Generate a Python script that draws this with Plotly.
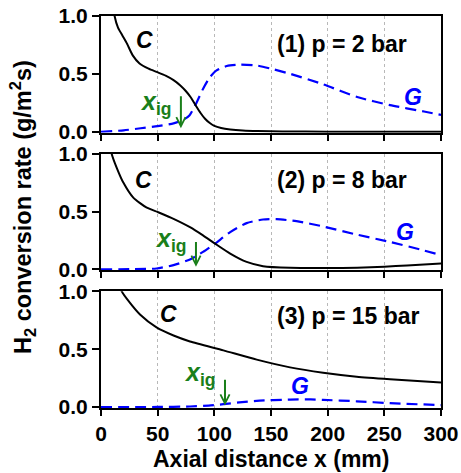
import plotly.graph_objects as go
from plotly.subplots import make_subplots

# ---- data ----
c1_x = [6, 12, 15, 19, 23, 28, 34, 42, 49, 57, 64, 70, 75, 79, 84, 88, 92, 96, 100, 106, 114, 125, 138, 160, 200, 250, 300]
c1_y = [1.5, 1.0, 0.9, 0.83, 0.76, 0.66, 0.59, 0.545, 0.517, 0.485, 0.446, 0.40, 0.35, 0.30, 0.22, 0.16, 0.11, 0.075, 0.05, 0.032, 0.02, 0.011, 0.006, 0.003, 0.001, 0.0, 0.0]
g1_x = [0, 20, 35, 50, 64, 72, 78, 84, 90, 96, 102, 111, 122, 137, 152, 167, 196, 226, 255, 285, 300]
g1_y = [0, 0.012, 0.03, 0.048, 0.072, 0.10, 0.14, 0.245, 0.37, 0.47, 0.53, 0.568, 0.58, 0.573, 0.54, 0.50, 0.41, 0.30, 0.23, 0.175, 0.145]

c2_x = [7, 9.4, 13.8, 19.7, 28.5, 40, 50.5, 64, 78.5, 90, 100.6, 114, 128.5, 143, 167, 200, 226, 250, 270, 300]
c2_y = [1.15, 1.0, 0.88, 0.75, 0.62, 0.536, 0.494, 0.437, 0.365, 0.294, 0.223, 0.137, 0.065, 0.028, 0.014, 0.012, 0.015, 0.024, 0.034, 0.051]
g2_x = [0, 30, 49, 64, 78.5, 90, 100.6, 114, 128.5, 143, 155, 172.5, 196, 226, 255, 284.5, 300]
g2_y = [0, 0.003, 0.008, 0.037, 0.086, 0.151, 0.223, 0.322, 0.40, 0.431, 0.434, 0.417, 0.371, 0.30, 0.237, 0.165, 0.123]

c3_x = [14, 18.3, 25.6, 34.4, 49, 64, 78.5, 108, 137.4, 166.8, 196, 225.6, 255, 300]
c3_y = [1.15, 1.0, 0.90, 0.80, 0.688, 0.618, 0.567, 0.49, 0.41, 0.343, 0.297, 0.263, 0.241, 0.212]
g3_x = [0, 50, 78.5, 95, 108, 122, 137.4, 166.8, 185, 196, 225.6, 255, 300]
g3_y = [0, 0.001, 0.005, 0.013, 0.025, 0.04, 0.054, 0.065, 0.066, 0.062, 0.05, 0.034, 0.017]

panel_titles = ["(1) p = 2 bar", "(2) p = 8 bar", "(3) p = 15 bar"]
x_ig = [70.5, 83.8, 109.4]          # ignition locations (mm)
x_ticks = [0, 50, 100, 150, 200, 250, 300]
y_ticks = [0, 0.5, 1.0]

C_data = [(c1_x, c1_y), (c2_x, c2_y), (c3_x, c3_y)]
G_data = [(g1_x, g1_y), (g2_x, g2_y), (g3_x, g3_y)]

FONT = "Liberation Sans"
GREEN = "#1a7f1a"
BLUE = "#0000ff"

fig = make_subplots(rows=3, cols=1, shared_xaxes=False, vertical_spacing=21 / 392)

for i in range(3):
    r = i + 1
    cx, cy = C_data[i]
    gx, gy = G_data[i]
    fig.add_trace(go.Scatter(x=gx, y=gy, mode="lines",
                             line=dict(color=BLUE, width=2.2, dash="11px,6px", shape="spline", smoothing=0.6),
                             showlegend=False, hoverinfo="skip"), row=r, col=1)
    fig.add_trace(go.Scatter(x=cx, y=cy, mode="lines",
                             line=dict(color="black", width=2, shape="spline", smoothing=0.6),
                             showlegend=False, hoverinfo="skip"), row=r, col=1)

    fig.update_xaxes(row=r, col=1, range=[0, 300], tickvals=x_ticks, automargin=False,
                     showticklabels=(r == 3), ticks="outside", ticklen=6, tickwidth=1.5,
                     tickcolor="black", showline=True, linecolor="black", linewidth=2,
                     mirror=True, showgrid=True, gridcolor="#b8b8b8", gridwidth=1,
                     griddash="dot", zeroline=False,
                     tickfont=dict(family=FONT, size=21, color="black", weight="bold"))
    fig.update_yaxes(row=r, col=1, range=[-0.008, 1.0], tickvals=y_ticks, automargin=False,
                     ticktext=["0.0", "0.5", "1.0"], ticks="outside", ticklen=7,
                     tickwidth=1.5, tickcolor="black", showline=True, linecolor="black",
                     linewidth=2, mirror=True, showgrid=False, zeroline=False,
                     tickfont=dict(family=FONT, size=21, color="black", weight="bold"))

xref = ["x", "x2", "x3"]
yref = ["y", "y2", "y3"]
title_y = [0.76, 0.77, 0.79]
c_pos = [(38.8, 0.79), (37.4, 0.77), (59.4, 0.80)]
g_pos = [(275.7, 0.30), (268.3, 0.32), (175.6, 0.18)]
xig_pos = [(48.4, 0.25), (61, 0.25), (87, 0.29)]
arrow_top = [0.32, 0.25, 0.25]
arrow_tip = [0.03, 0.022, 0.014]

ann = []
for i in range(3):
    ann.append(dict(x=153.6, y=title_y[i], xref=xref[i], yref=yref[i], xanchor="left",
                    yanchor="middle", showarrow=False, text=panel_titles[i],
                    font=dict(family=FONT, size=23, color="black", weight="bold")))
    ann.append(dict(x=c_pos[i][0], y=c_pos[i][1], xref=xref[i], yref=yref[i],
                    showarrow=False, text="<i>C</i>",
                    font=dict(family=FONT, size=23, color="black", weight="bold")))
    ann.append(dict(x=g_pos[i][0], y=g_pos[i][1], xref=xref[i], yref=yref[i],
                    showarrow=False, text="<i>G</i>",
                    font=dict(family=FONT, size=23, color=BLUE, weight="bold")))
    ann.append(dict(x=xig_pos[i][0], y=xig_pos[i][1], xref=xref[i], yref=yref[i],
                    showarrow=False, text="<i>x</i><sub>ig</sub>",
                    font=dict(family=FONT, size=25, color=GREEN, weight="bold")))
    ann.append(dict(x=x_ig[i], y=arrow_tip[i], ax=x_ig[i], ay=arrow_top[i],
                    xref=xref[i], yref=yref[i], axref=xref[i], ayref=yref[i],
                    showarrow=True, text="", arrowhead=5, arrowsize=0.9,
                    arrowwidth=2, arrowcolor=GREEN))

ann.append(dict(x=-0.229, y=0.513, xref="paper", yref="paper", showarrow=False,
                textangle=-90, xanchor="center", yanchor="middle",
                text="H<sub>2</sub> conversion rate (g/m<sup>2</sup>s)",
                font=dict(family=FONT, size=23.5, color="black", weight="bold")))
ann.append(dict(x=0.5, y=-0.13, xref="paper", yref="paper", showarrow=False,
                xanchor="center", yanchor="middle",
                text="Axial distance x (mm)",
                font=dict(family=FONT, size=23, color="black", weight="bold")))

fig.update_layout(width=461, height=473, margin=dict(l=101, r=20, t=16, b=65, autoexpand=False),
                  plot_bgcolor="white", paper_bgcolor="white", annotations=ann,
                  showlegend=False)

fig.write_html("out.html")
